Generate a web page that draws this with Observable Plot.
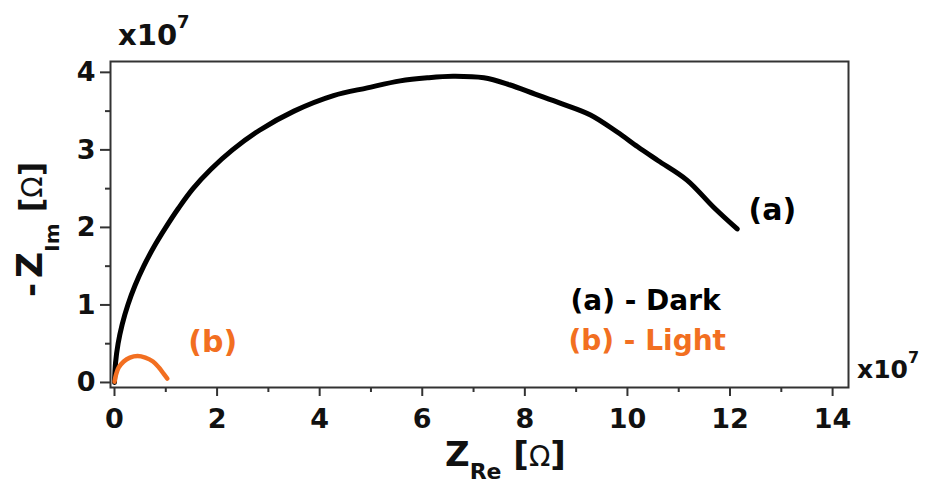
<!DOCTYPE html>
<html>
<head>
<meta charset="utf-8">
<script src="https://cdn.jsdelivr.net/npm/d3@7"></script>
<script src="https://cdn.jsdelivr.net/npm/@observablehq/plot@0.6"></script>
<style>
  html, body { margin: 0; padding: 0; background: #fff; }
  #chart svg { display: block; }
</style>
</head>
<body>
<div id="chart"></div>
<script>
// Nyquist plot of the cell impedance, values in units of 1e7 Ω.
// (a) measured in the dark
const darkRe = [0, 0.02, 0.07, 0.15, 0.26, 0.40, 0.57, 0.77, 1.00, 1.25, 1.53, 1.88, 2.30, 2.82, 3.50, 4.27, 4.93, 5.57, 6.10, 6.60, 7.20, 7.70, 8.20, 8.70, 9.28, 9.80, 10.20, 10.60, 11.16, 11.68, 12.14];
const darkIm = [0, 0.25, 0.50, 0.75, 1.00, 1.25, 1.50, 1.75, 2.00, 2.25, 2.50, 2.75, 3.00, 3.25, 3.50, 3.70, 3.80, 3.89, 3.93, 3.95, 3.93, 3.84, 3.72, 3.60, 3.45, 3.23, 3.04, 2.86, 2.61, 2.26, 1.98];
// (b) measured under illumination
const lightRe = [0, 0.03, 0.08, 0.18, 0.30, 0.45, 0.60, 0.75, 0.87, 0.96, 1.03];
const lightIm = [0.01, 0.10, 0.19, 0.27, 0.32, 0.34, 0.32, 0.27, 0.19, 0.11, 0.05];

// axis ticks
const xTicks = [0, 2, 4, 6, 8, 10, 12, 14];
const xMinor = [1, 3, 5, 7, 9, 11, 13];
const yTicks = [0, 1, 2, 3, 4];
const yMinor = [0.5, 1.5, 2.5, 3.5];

// curve tags and legend lines
const noteText = ["(a)", "(b)", "(a) - Dark", "(b) - Light"];
const noteSeries = ["Dark", "Light", "Dark", "Light"];
const noteRe = [12.36, 1.44, 8.89, 8.85];
const noteIm = [2.22, 0.52, 1.05, 0.53];

const colors = {Dark: "#000000", Light: "#f26f21"};
const font = "DejaVu Sans";

const dark = darkRe.map((x, i) => ({x, y: darkIm[i]}));
const light = lightRe.map((x, i) => ({x, y: lightIm[i]}));
const notes = noteText.map((t, i) => ({t, s: noteSeries[i], x: noteRe[i], y: noteIm[i], big: i < 2}));

const axisStyle = {stroke: "#333", strokeWidth: 2, fill: "#111", label: null, fontSize: 27, fontWeight: "bold", tickFormat: d => String(d)};

const chart = Plot.plot({
  width: 933,
  height: 488,
  marginLeft: 110,
  marginRight: 85,
  marginTop: 61,
  marginBottom: 101,
  x: {domain: [-0.078, 14.31]},
  y: {domain: [-0.065, 4.14]},
  style: {fontFamily: font, fontWeight: "bold", fontSize: "27px", color: "#111", background: "#fff", overflow: "visible"},
  marks: [
    Plot.line(dark, {x: "x", y: "y", stroke: colors.Dark, strokeWidth: 5, curve: "catmull-rom", strokeLinecap: "round", strokeLinejoin: "round"}),
    Plot.line(light, {x: "x", y: "y", stroke: colors.Light, strokeWidth: 4.5, curve: "catmull-rom", strokeLinecap: "round", strokeLinejoin: "round"}),
    Plot.axisX({ticks: xTicks, tickSize: 9, tickPadding: 12, ...axisStyle}),
    Plot.axisX({ticks: xMinor, tickSize: 5, text: null, stroke: "#333", strokeWidth: 2, label: null}),
    Plot.axisY({ticks: yTicks, tickSize: 10, tickPadding: 5, ...axisStyle}),
    Plot.axisY({ticks: yMinor, tickSize: 5, text: null, stroke: "#333", strokeWidth: 2, label: null}),
    Plot.frame({stroke: "#333", strokeWidth: 2}),
    Plot.text(notes, {x: "x", y: "y", text: "t", textAnchor: "start", fill: d => colors[d.s], fontSize: d => d.big ? 30 : 28, fontWeight: "bold"})
  ]
});

document.getElementById("chart").appendChild(chart);

// Axis titles and exponent markers, with sub/superscripts as tspans
const svg = d3.select(chart);
function rich(x, y, rotate, parts) {
  const t = svg.append("text")
    .attr("transform", `translate(${x},${y})${rotate ? ` rotate(${rotate})` : ""}`)
    .attr("text-anchor", "start")
    .attr("font-family", font)
    .attr("fill", "#111");
  for (const p of parts) {
    t.append("tspan")
      .attr("font-size", p.size)
      .attr("font-weight", p.weight || "bold")
      .attr("dx", p.dx || 0)
      .attr("dy", p.dy || 0)
      .text(p.t);
  }
}

rich(445, 466, 0, [
  {t: "Z", size: 34},
  {t: "Re", size: 22, dy: 13},
  {t: " [", size: 34, dy: -13},
  {t: "Ω", size: 28, weight: "normal"},
  {t: "]", size: 34}
]);

rich(42, 297, -90, [
  {t: "-", size: 34},
  {t: "Z", size: 36, dx: 5},
  {t: "Im", size: 20, dy: 17},
  {t: " [", size: 32, dy: -17},
  {t: "Ω", size: 28, weight: "normal"},
  {t: "]", size: 32}
]);

rich(118, 45, 0, [
  {t: "x10", size: 29},
  {t: "7", size: 18, dy: -17}
]);

rich(857, 378, 0, [
  {t: "x10", size: 25},
  {t: "7", size: 16, dy: -15}
]);
</script>
</body>
</html>
